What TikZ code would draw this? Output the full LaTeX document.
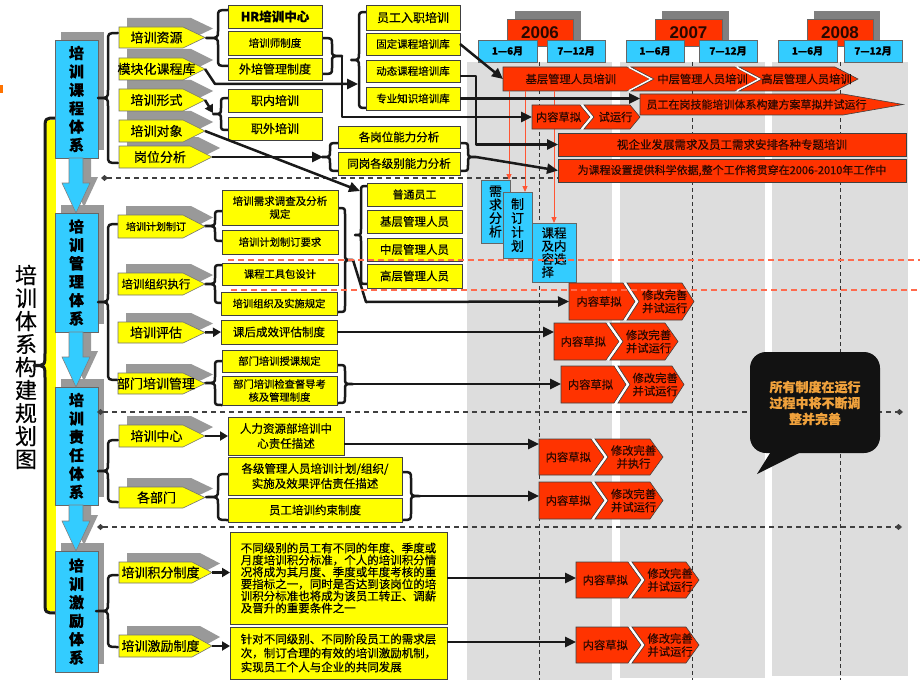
\documentclass[tikz,border=0pt]{standalone}
\usepackage{fontspec}
\setmainfont{Noto Sans CJK SC}[FakeBold=0.35]
\newfontfamily\latfont{Liberation Sans}
\usetikzlibrary{arrows.meta,calc}
\definecolor{yel}{HTML}{FFFF00}
\definecolor{blu}{HTML}{33CCFF}
\definecolor{redo}{HTML}{FF3300}
\definecolor{shad}{HTML}{999999}
\definecolor{colg}{HTML}{DDDDDD}
\definecolor{calltxt}{HTML}{EFA13C}
\definecolor{rdash}{HTML}{FF6A4D}
\definecolor{thinred}{HTML}{FF5533}
\definecolor{rtxt}{HTML}{2A0800}
\tikzset{
 ybox/.style={draw=black!75, fill=yel, line width=0.7pt, inner sep=0pt, outer sep=0pt, align=center, font=\fontsize{11.5}{13}\selectfont},
 bbox/.style={draw=black!60, fill=blu, line width=0.7pt, inner sep=0pt, outer sep=0pt, align=center},
 rchev/.style={fill=redo, draw=black!75, line width=0.6pt},
 rrect/.style={fill=redo, draw=black!75, line width=0.6pt, inner sep=0pt, outer sep=0pt, text=rtxt, font=\fontsize{11}{13}\selectfont},
 rtext/.style={inner sep=0pt, outer sep=0pt, align=center, text=rtxt, font=\fontsize{11.3}{13}\selectfont},
 plbl/.style={inner sep=0pt, outer sep=0pt, font=\fontsize{13}{15}\selectfont},
 ypentst/.style={fill=yel, draw=black!55, line width=0.6pt},
 conn/.style={line width=2.5pt, black!90, line join=round, -{Triangle[length=11pt,width=10pt]}},
 sconn/.style={line width=2.5pt, black!90, line join=round, -{Triangle[length=8pt,width=9pt]}},
 brcline/.style={line width=2.5pt, black!90, line join=round, line cap=round},
 thinarr/.style={draw=thinred, line width=0.9pt, -{Triangle[length=6pt,width=5pt]}},
 hdash/.style={draw=black!75, line width=1.1pt, dash pattern=on 5pt off 4pt},
 vdash/.style={draw=black!80, line width=0.8pt, dash pattern=on 4pt off 3pt},
 rdashl/.style={draw=rdash, line width=1.3pt, dash pattern=on 6pt off 4pt},
 hdr/.style={draw=black!60, fill=blu, line width=0.6pt, inner sep=0pt, outer sep=0pt, font=\bfseries\fontsize{10}{12}\selectfont},
}
\newcommand{\BoxAt}[7]{\node[#1, minimum width={#5-#3}, minimum height={#6-#4}] (#2) at ({(#3+#5)/2},{(#4+#6)/2}) {#7};}
\newcommand{\CBrace}[6]{\draw[brcline] (#1,#4) .. controls (#2,#4) .. (#2,{#4+#6}) -- (#2,{(#4+#5)/2-#6}) .. controls (#2,{(#4+#5)/2}) .. (#3,{(#4+#5)/2}) .. controls (#2,{(#4+#5)/2}) .. (#2,{(#4+#5)/2+#6}) -- (#2,{#5-#6}) .. controls (#2,#5) .. (#1,#5);}
\newcommand{\YPS}[5]{\fill[shad] ({#1+8},{#2-9}) -- ({#3+8},{#2-9}) -- ({#3+#5+8},{(#2+#4)/2-9}) -- ({#3+8},{#4-9}) -- ({#1+8},{#4-9}) -- cycle;}
\newcommand{\YPent}[7]{%
 \draw[ypentst] (#2,#3) -- (#4,#3) -- ({#4+#6},{(#3+#5)/2}) -- (#4,#5) -- (#2,#5) -- cycle;
 \node[plbl] (#1) at ({(#2+#4+#6/2)/2},{(#3+#5)/2}) {#7};
 \coordinate (#1-tip) at ({#4+#6},{(#3+#5)/2});}
\newcommand{\RChevA}[7]{%
 \draw[rchev] (#2,#3) -- (#4,#3) -- ({#4+#6},{(#3+#5)/2}) -- (#4,#5) -- (#2,#5) -- cycle;
 \node[rtext, minimum width={#4-#2+#6/2}, minimum height={#5-#3}] (#1) at ({(#2+#4+#6/2)/2},{(#3+#5)/2}) {#7};}
\newcommand{\RChevB}[7]{%
 \draw[white, line width=2pt] ({#2-2},#3) -- ({#2+#6-2},{(#3+#5)/2}) -- ({#2-2},#5);
 \draw[rchev] (#2,#3) -- (#4,#3) -- ({#4+#6},{(#3+#5)/2}) -- (#4,#5) -- (#2,#5) -- ({#2+#6},{(#3+#5)/2}) -- cycle;
 \node[rtext] (#1) at ({(#2+#4)/2+0.85*#6},{(#3+#5)/2}) {#7};}
\begin{document}
\begin{tikzpicture}[x=1pt,y=-1pt]
\useasboundingbox (0,0) rectangle (920,690);
\fill[white] (0,0) rectangle (920,690);
% timeline columns
\fill[colg] (467,62) rectangle (612,680);
\fill[colg] (620,62) rectangle (765,678);
\fill[colg] (772,62) rectangle (908,676);
\foreach \xx in {539,692,840} \draw[vdash] (\xx,62) -- (\xx,680);
\fill[orange!90!red] (0,85) rectangle (3,93);
% year headers
\fill[black!50] (515,11) rectangle (581,40);
\fill[black!50] (662,11) rectangle (729,40);
\fill[black!50] (814,11) rectangle (880,40);
\BoxAt{draw=black!60,fill=redo,inner sep=0pt,text=rtxt,font=\latfont\bfseries\fontsize{17}{17}\selectfont}{y06}{507}{19}{573}{46}{2006}
\BoxAt{draw=black!60,fill=redo,inner sep=0pt,text=rtxt,font=\latfont\bfseries\fontsize{17}{17}\selectfont}{y07}{655}{19}{722}{46}{2007}
\BoxAt{draw=black!60,fill=redo,inner sep=0pt,text=rtxt,font=\latfont\bfseries\fontsize{17}{17}\selectfont}{y08}{807}{19}{873}{46}{2008}
\BoxAt{hdr}{h06a}{478}{40}{537}{62}{1—6月}
\BoxAt{hdr}{h06b}{547}{40}{605}{62}{7—12月}
\BoxAt{hdr}{h07a}{626}{40}{684}{62}{1—6月}
\BoxAt{hdr}{h07b}{699}{40}{757}{62}{7—12月}
\BoxAt{hdr}{h08a}{778}{40}{837}{62}{1—6月}
\BoxAt{hdr}{h08b}{844}{40}{902}{62}{7—12月}
% left title and big brace
\node[font=\fontsize{22}{23}\selectfont, align=center, inner sep=0pt] (ttl) at (26,367) {培\\训\\体\\系\\构\\建\\规\\划\\图};
\fill[yel] (45,120) rectangle (56,611);
\begin{scope}[brcline/.append style={line width=3pt}]
\CBrace{56}{45}{34}{118}{613}{12}
\end{scope}
% blue column shadows
\fill[shad] (61,32) rectangle (104,150);
\fill[shad] (61,205) rectangle (104,324);
\fill[shad] (61,379) rectangle (104,497);
\fill[shad] (61,543) rectangle (104,664);
\foreach \ta/\tb in {158/213,332/387,505/551}
 \fill[shad] (77,\ta-6) -- (91,\ta-6) -- (91,\tb-36) -- (98,\tb-36) -- (84,\tb-6) -- (70,\tb-36) -- (77,\tb-36) -- cycle;
\BoxAt{bbox,font=\bfseries\fontsize{15}{18.4}\selectfont}{b1}{55}{40}{98}{158}{培\\训\\课\\程\\体\\系}
\BoxAt{bbox,font=\bfseries\fontsize{15}{18.4}\selectfont}{b2}{55}{213}{98}{332}{培\\训\\管\\理\\体\\系}
\BoxAt{bbox,font=\bfseries\fontsize{15}{18.4}\selectfont}{b3}{55}{387}{98}{505}{培\\训\\责\\任\\体\\系}
\BoxAt{bbox,font=\bfseries\fontsize{15}{18.4}\selectfont}{b4}{55}{551}{98}{672}{培\\训\\激\\励\\体\\系}
\foreach \ta/\tb in {158/213,332/387,505/551}
 \filldraw[fill=blu, draw=black!50, line width=0.6pt] (69,\ta) -- (83,\ta) -- (83,\tb-30) -- (90,\tb-30) -- (76,\tb) -- (62,\tb-30) -- (69,\tb-30) -- cycle;
% horizontal section separators
\draw[hdash, {Diamond[length=7pt,width=6pt]}-{Diamond[length=7pt,width=6pt]}] (101,178) -- (907,178);
\draw[hdash, {Diamond[length=7pt,width=6pt]}-{Diamond[length=7pt,width=6pt]}] (97,412) -- (903,412);
\draw[hdash, {Diamond[length=7pt,width=6pt]}-{Diamond[length=7pt,width=6pt]}] (97,527) -- (902,527);
% braces
\CBrace{118}{108}{98}{33}{163}{8}
\CBrace{118}{108}{98}{224}{380}{8}
\CBrace{118}{108}{98}{440}{502}{8}
\CBrace{118}{108}{96}{575}{647}{8}
\CBrace{228}{218}{206}{10}{66}{7}
\CBrace{228}{221}{213}{98}{130}{6}
\CBrace{367}{359}{351}{12}{108}{7}
\CBrace{322}{332}{342}{38}{74}{6}
\CBrace{338}{330}{322}{143}{171}{6}
\CBrace{461}{468}{476}{143}{171}{6}
\CBrace{367}{361}{355}{186}{284}{6}
\CBrace{222}{215}{205}{211}{241}{6}
\CBrace{222}{215}{205}{265}{303}{6}
\CBrace{338}{345}{353}{208}{312}{6}
\CBrace{222}{215}{205}{361}{405}{6}
\CBrace{338}{345}{353}{365}{403}{6}
\CBrace{228}{218}{206}{474}{520}{7}
\CBrace{402}{411}{420}{472}{520}{7}
\coordinate (bxs) at (213,113);
\coordinate (g2in) at (358,84);
\coordinate (bw) at (342,56);
\coordinate (bgwl) at (323,157);
\coordinate (bgwr) at (476,157);
\coordinate (bpt) at (360,191);
\coordinate (bmg) at (353,260);
\coordinate (bbm) at (353,384);
\coordinate (bgb) at (420,496);
% category pentagons
\YPS{119}{27}{183}{48}{22}
\YPS{119}{58}{183}{80}{22}
\YPS{119}{89}{183}{111}{22}
\YPS{119}{120}{183}{142}{22}
\YPS{119}{146}{190}{168}{22}
\YPS{118}{215}{183}{238}{22}
\YPS{118}{273}{183}{295}{22}
\YPS{118}{322}{183}{343}{22}
\YPS{118}{373}{183}{394}{22}
\YPS{119}{425}{183}{447}{22}
\YPS{119}{487}{183}{508}{22}
\YPS{119}{562}{192}{583}{20}
\YPS{119}{635}{192}{657}{20}
\YPent{zy}{119}{27}{183}{48}{22}{培训资源}
\YPent{mk}{119}{58}{183}{80}{22}{模块化课程库}
\YPent{xs}{119}{89}{183}{111}{22}{培训形式}
\YPent{dx}{119}{120}{183}{142}{22}{培训对象}
\YPent{gw}{119}{146}{190}{168}{22}{岗位分析}
\YPent{jh}{118}{215}{183}{238}{22}{\fontsize{10}{12}\selectfont 培训计划制订}
\YPent{zz}{118}{273}{183}{295}{22}{\fontsize{11.5}{13}\selectfont 培训组织执行}
\YPent{pg}{118}{322}{183}{343}{22}{培训评估}
\YPent{bm}{118}{373}{183}{394}{22}{部门培训管理}
\YPent{zx}{119}{425}{183}{447}{22}{培训中心}
\YPent{gb}{119}{487}{183}{508}{22}{各部门}
\YPent{jf}{119}{562}{192}{583}{20}{培训积分制度}
\YPent{jl}{119}{635}{192}{657}{20}{培训激励制度}
% yellow boxes
\BoxAt{ybox,font=\bfseries\fontsize{12.5}{14}\selectfont}{hr}{228}{5}{322}{28}{HR培训中心}
\BoxAt{ybox,font=\fontsize{10.5}{12}\selectfont}{ps}{228}{31}{322}{55}{培训师制度}
\BoxAt{ybox,font=\fontsize{12}{14}\selectfont}{wp}{228}{58}{322}{80}{外培管理制度}
\BoxAt{ybox,font=\fontsize{12}{14}\selectfont}{zn}{228}{89}{322}{112}{职内培训}
\BoxAt{ybox,font=\fontsize{12}{14}\selectfont}{zw}{228}{117}{322}{140}{职外培训}
\BoxAt{ybox,font=\fontsize{12}{14}\selectfont}{rz}{366}{5}{460}{30}{员工入职培训}
\BoxAt{ybox,font=\fontsize{10.5}{12}\selectfont}{gd}{366}{33}{460}{55}{固定课程培训库}
\BoxAt{ybox,font=\fontsize{10.5}{12}\selectfont}{dt}{366}{60}{460}{82}{动态课程培训库}
\BoxAt{ybox,font=\fontsize{10.5}{12}\selectfont}{zk}{366}{87}{460}{110}{专业知识培训库}
\BoxAt{ybox}{gwnl}{338}{126}{460}{148}{各岗位能力分析}
\BoxAt{ybox}{tg}{338}{152}{460}{175}{同岗各级别能力分析}
\BoxAt{ybox,font=\fontsize{11}{13}\selectfont}{pt}{367}{183}{462}{206}{普通员工}
\BoxAt{ybox}{jc}{367}{210}{462}{233}{基层管理人员}
\BoxAt{ybox}{zc}{367}{238}{462}{261}{中层管理人员}
\BoxAt{ybox}{gc}{367}{264}{462}{288}{高层管理人员}
\BoxAt{ybox,font=\fontsize{10.5}{13}\selectfont}{xq0}{222}{190}{338}{225}{培训需求调查及分析\\规定}
\BoxAt{ybox,font=\fontsize{10.3}{12}\selectfont}{jy}{222}{230}{338}{254}{培训计划制订要求}
\BoxAt{ybox,font=\fontsize{10.3}{12}\selectfont}{gj}{222}{263}{338}{285}{课程工具包设计}
\BoxAt{ybox,font=\fontsize{10.3}{12}\selectfont}{ss}{221}{292}{337}{315}{培训组织及实施规定}
\BoxAt{ybox}{kh}{221}{320}{337}{344}{课后成效评估制度}
\BoxAt{ybox,font=\fontsize{10.3}{12}\selectfont}{sk}{222}{350}{337}{372}{部门培训授课规定}
\BoxAt{ybox,font=\fontsize{10.3}{13}\selectfont}{jcz}{222}{376}{337}{405}{部门培训检查督导考\\核及管理制度}
\BoxAt{ybox,font=\fontsize{11.5}{15}\selectfont}{rl}{228}{417}{344}{455}{人力资源部培训中\\心责任描述}
\BoxAt{ybox,font=\fontsize{11.5}{15}\selectfont}{gjz}{228}{457}{402}{495}{各级管理人员培训计划/组织/\\实施及效果评估责任描述}
\BoxAt{ybox}{ys}{228}{498}{402}{522}{员工培训约束制度}
\BoxAt{ybox,align=left,font=\fontsize{11.5}{12}\selectfont}{bb1}{230}{532}{447}{624}{不同级别的员工有不同的年度、季度或\\月度培训积分标准，个人的培训积分情\\况将成为其月度、季度或年度考核的重\\要指标之一，同时是否达到该岗位的培\\训积分标准也将成为该员工转正、调薪\\及晋升的重要条件之一}
\BoxAt{ybox,align=left,font=\fontsize{11.5}{14}\selectfont}{bb2}{230}{627}{447}{679}{针对不同级别、不同阶段员工的需求层\\次，制订合理的有效的培训激励机制，\\实现员工个人与企业的共同发展}
% timeline row 1
\RChevA{r1a}{503}{67}{627}{91}{23}{基层管理人员培训}
\RChevB{r1b}{631}{67}{735}{91}{23}{中层管理人员培训}
\RChevB{r1c}{739}{67}{835}{91}{23}{高层管理人员培训}
% blue step boxes
\BoxAt{bbox,font=\fontsize{13}{13.5}\selectfont}{xq}{481}{180}{510}{243}{需\\求\\分\\析}
\BoxAt{bbox,font=\fontsize{13}{14}\selectfont}{zd}{503}{192}{532}{258}{制\\订\\计\\划}
\BoxAt{bbox,align=left,font=\fontsize{12.5}{13}\selectfont}{kc}{532}{223}{576}{282}{课程\\及内\\容选\\择}
\coordinate (ra1) at ([xshift=6pt]r1a.south west);
\coordinate (ra2) at ([xshift=22pt]r1a.south west);
\coordinate (ra3) at ([xshift=51pt]r1a.south west);
\draw[thinarr] (ra1) -- (ra1 |- xq.north);
\draw[thinarr] (ra2) -- (ra2 |- zd.north);
\draw[thinarr] (ra3) -- (ra3 |- kc.north);
% timeline rows
\RChevA{r2}{640}{94}{843}{115}{60}{\fontsize{11}{13}\selectfont 员工在岗技能培训体系构建方案草拟并试运行}
\RChevA{r3a}{532}{105}{580}{129}{10}{内容草拟}
\RChevB{r3b}{584}{105}{630}{129}{10}{试运行}
\BoxAt{rrect,font=\fontsize{11.5}{13}\selectfont}{r4}{558}{133}{906}{156}{视企业发展需求及员工需求安排各种专题培训}
\BoxAt{rrect}{r5}{558}{159}{906}{182}{为课程设置提供科学依据,整个工作将贯穿在2006-2010年工作中}
\RChevA{rA}{569}{283}{623}{320}{12}{内容草拟}
\RChevB{rA2}{627}{283}{682}{320}{12}{修改完善\\并试运行}
\RChevA{rB}{554}{323}{606}{360}{13}{内容草拟}
\RChevB{rB2}{610}{323}{665}{360}{13}{修改完善\\并试运行}
\RChevA{rC}{561}{366}{614}{403}{12}{内容草拟}
\RChevB{rC2}{618}{366}{672}{403}{12}{修改完善\\并试运行}
\RChevA{rD}{539}{439}{591}{475}{13}{内容草拟}
\RChevB{rD2}{595}{439}{650}{475}{13}{修改完善\\并执行}
\RChevA{rE}{539}{482}{591}{519}{13}{内容草拟}
\RChevB{rE2}{595}{482}{650}{519}{13}{修改完善\\并试运行}
\RChevA{rF}{576}{562}{628}{598}{13}{内容草拟}
\RChevB{rF2}{632}{562}{686}{598}{13}{修改完善\\并试运行}
\RChevA{rG}{576}{627}{628}{663}{13}{内容草拟}
\RChevB{rG2}{632}{627}{686}{663}{13}{修改完善\\并试运行}
% connectors
\draw[conn] (mk-tip) -- ++(10,15) -- (g2in);
\draw[sconn] (xs-tip) -- (bxs);
\draw[conn] (bw) |- (r3a.west);
\draw[conn] (gd.east) -- (r1a.west);
\draw[conn] ([yshift=-5pt]dt.east) -- ++(16,0) |- (r4.west);
\draw[conn] (zk.east) -- (zk.east -| r2.west);
\draw[conn] (gw-tip) -- (bgwl);
\draw[conn] (bgwr) -- (r5.west);
\draw[conn] (dx-tip) -- (bpt);
\draw[conn] (bmg) -- ++(13,42) -- (rA.west);
\draw[sconn] (pg-tip) -- (kh.west);
\draw[conn] (kh.east) -- (kh.east -| rB.west);
\draw[conn] (bbm) -- (bbm -| rC.west);
\draw[sconn] (zx-tip) -- (zx-tip -| rl.west);
\coordinate (rlout) at ([yshift=-8pt]rl.east);
\draw[conn] (rlout) -- (rlout -| rD.west);
\draw[conn] (bgb) -- (bgb -| rE.west);
\draw[sconn] (jf-tip) -- (jf-tip -| bb1.west);
\draw[conn] (bb1.east) -- (bb1.east -| rF.west);
\draw[sconn] (jl-tip) -- (jl-tip -| bb2.west);
\coordinate (bb2out) at ([yshift=11pt]bb2.east);
\draw[conn] (bb2out) -- (bb2out -| rG.west);
% red dashed guides
\draw[rdashl] (228,260) -- (920,260);
\draw[rdashl] (231,290) -- (920,290);
% callout
\fill[black!93, rounded corners=16pt] (750,352) rectangle (880,453);
\fill[black!93] (772,450) -- (757,474) -- (805,450) -- cycle;
\node[font=\bfseries\fontsize{13}{16}\selectfont, text=calltxt, align=center, inner sep=0pt] (cl) at (815,403) {所有制度在运行\\过程中将不断调\\整并完善};
\end{tikzpicture}
\end{document}
